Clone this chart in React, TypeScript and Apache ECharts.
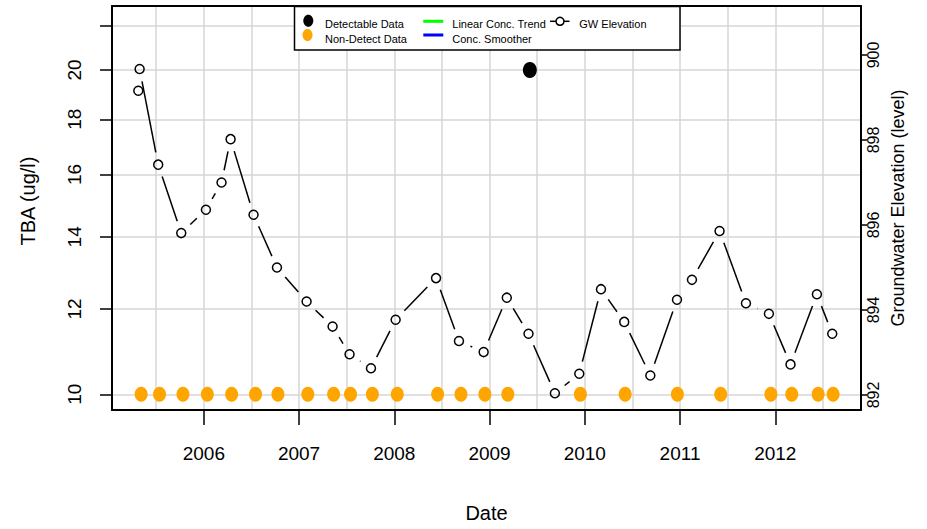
import React, { useEffect, useRef } from 'react';
import * as echarts from 'echarts';

// Groundwater elevation (right axis)
const gwDates = [2005.312, 2005.326, 2005.521, 2005.763, 2006.022, 2006.186, 2006.281, 2006.522, 2006.768, 2007.079, 2007.352, 2007.530, 2007.755, 2008.014, 2008.438, 2008.679, 2008.938, 2009.181, 2009.409, 2009.686, 2009.942, 2010.170, 2010.414, 2010.688, 2010.968, 2011.125, 2011.415, 2011.692, 2011.933, 2012.160, 2012.437, 2012.598];
const gwValues = [899.16, 899.67, 897.42, 895.81, 896.36, 897.00, 898.02, 896.24, 895.00, 894.20, 893.61, 892.96, 892.63, 893.77, 894.75, 893.27, 893.01, 894.29, 893.44, 892.04, 892.50, 894.49, 893.72, 892.46, 894.24, 894.71, 895.86, 894.16, 893.91, 892.72, 894.37, 893.44];

// Non-detect TBA (left axis)
const ndDates = [2005.342, 2005.535, 2005.781, 2006.037, 2006.292, 2006.543, 2006.778, 2007.092, 2007.363, 2007.540, 2007.770, 2008.031, 2008.455, 2008.700, 2008.951, 2009.192, 2009.954, 2010.424, 2010.972, 2011.427, 2011.954, 2012.173, 2012.450, 2012.607];
const ndValues = [10, 10, 10, 10, 10, 10, 10, 10, 10, 10, 10, 10, 10, 10, 10, 10, 10, 10, 10, 10, 10, 10, 10, 10];

// Detectable TBA
const detDates = [2009.423];
const detValues = [20];

// Axis ticks
const yearTicks = [2006, 2007, 2008, 2009, 2010, 2011, 2012];
const xGridTicks = [2005.5, 2006, 2006.5, 2007, 2007.5, 2008, 2008.5, 2009, 2009.5, 2010, 2010.5, 2011, 2011.5, 2012, 2012.5];
const leftTicks = [10, 12, 14, 16, 18, 20, 22];
const leftLabels = [10, 12, 14, 16, 18, 20];
const rightTicks = [892, 894, 896, 898, 900];

const FONT = 'Liberation Sans, Arial, Helvetica, sans-serif';

export default function App() {
  const ref = useRef<HTMLDivElement>(null);
  useEffect(() => {
    const chart = echarts.init(ref.current!, null, { renderer: 'svg' });
    const segData: number[][] = [];
    for (let i = 1; i < gwDates.length; i++) {
      segData.push([gwDates[i - 1], gwValues[i - 1], gwDates[i], gwValues[i]]);
    }
    const option: any = {
      animation: false,
      backgroundColor: '#ffffff',
      textStyle: { fontFamily: FONT },
      grid: { left: 112, right: 66, top: 6, bottom: 119, containLabel: false, outerBoundsMode: 'none' },
      xAxis: [
        {
          type: 'value', position: 'bottom', min: 2005.036, max: 2012.9,
          axisLine: { show: true, lineStyle: { color: '#000', width: 2 } },
          axisTick: { show: true, customValues: yearTicks, length: 15, lineStyle: { color: '#000', width: 1.5 } },
          axisLabel: { show: true, customValues: yearTicks, fontSize: 19, color: '#000', margin: 34, fontFamily: FONT, formatter: (v: number) => String(Math.round(v)) },
          splitLine: { show: false },
          name: 'Date', nameLocation: 'middle', nameGap: 93,
          nameTextStyle: { fontSize: 20, color: '#000', fontFamily: FONT },
        },
        {
          type: 'value', position: 'top', min: 2005.036, max: 2012.9,
          axisLine: { show: true, lineStyle: { color: '#000', width: 2 } },
          axisTick: { show: false, customValues: xGridTicks },
          axisLabel: { show: false, customValues: xGridTicks },
          splitLine: { show: true, lineStyle: { color: '#d6d6d6', width: 1.5 } },
        },
      ],
      yAxis: [
        {
          type: 'log', logBase: 10, position: 'left', min: 9.670, max: 22.93,
          axisLine: { show: true, lineStyle: { color: '#000', width: 2 } },
          axisTick: { show: true, customValues: leftTicks, length: 12, lineStyle: { color: '#000', width: 1.5 } },
          axisLabel: { show: true, customValues: leftLabels, rotate: 90, fontSize: 19, color: '#000', margin: 28, fontFamily: FONT, formatter: (v: number) => String(Math.round(v)) },
          splitLine: { show: true, lineStyle: { color: '#d6d6d6', width: 1.5 } },
          name: 'TBA (ug/l)', nameLocation: 'middle', nameGap: 74, nameRotate: 90,
          nameTextStyle: { fontSize: 20, color: '#000', fontFamily: FONT, padding: [0, 0, 0, 14] },
        },
        {
          type: 'value', position: 'right', min: 891.647, max: 901.153,
          axisLine: { show: true, lineStyle: { color: '#000', width: 2 } },
          axisTick: { show: true, customValues: rightTicks, length: 6, lineStyle: { color: '#000', width: 1.5 } },
          axisLabel: { show: true, customValues: rightTicks, rotate: 90, fontSize: 16, color: '#000', margin: 4, fontFamily: FONT },
          splitLine: { show: false },
          name: 'Groundwater Elevation (level)', nameLocation: 'middle', nameGap: 25, nameRotate: 90,
          nameTextStyle: { fontSize: 18, color: '#000', fontFamily: FONT },
        },
      ],
      series: [
        {
          type: 'custom', xAxisIndex: 0, yAxisIndex: 1, silent: true, clip: false, z: 3,
          encode: { x: [0, 2], y: [1, 3] },
          data: segData,
          renderItem: (params: any, api: any) => {
            const p0 = api.coord([api.value(0), api.value(1)]);
            const p1 = api.coord([api.value(2), api.value(3)]);
            const dx = p1[0] - p0[0];
            const dy = p1[1] - p0[1];
            const len = Math.hypot(dx, dy);
            const gap = 12.5;
            if (len <= 2 * gap) return { type: 'group', children: [] };
            const ux = dx / len, uy = dy / len;
            return {
              type: 'line',
              shape: { x1: p0[0] + ux * gap, y1: p0[1] + uy * gap, x2: p1[0] - ux * gap, y2: p1[1] - uy * gap },
              style: { stroke: '#000', lineWidth: 1.5 },
            };
          },
        },
        {
          type: 'scatter', xAxisIndex: 0, yAxisIndex: 1, z: 4, silent: true,
          symbol: 'circle', symbolSize: 9,
          itemStyle: { color: 'rgba(0,0,0,0)', borderColor: '#000', borderWidth: 1.5, opacity: 1 },
          data: gwDates.map((d, i) => [d, gwValues[i]]),
        },
        {
          type: 'scatter', xAxisIndex: 0, yAxisIndex: 0, z: 5, silent: true,
          symbol: 'circle', symbolSize: [13, 15],
          itemStyle: { color: '#FFA500', opacity: 1 },
          data: ndDates.map((d, i) => [d, ndValues[i]]),
        },
        {
          type: 'scatter', xAxisIndex: 0, yAxisIndex: 0, z: 5, silent: true,
          symbol: 'circle', symbolSize: [14, 16],
          itemStyle: { color: '#000', opacity: 1 },
          data: detDates.map((d, i) => [d, detValues[i]]),
        },
      ],
      graphic: [
        {
          type: 'group', z: 100,
          children: [
            { type: 'rect', z: 100, shape: { x: 294.5, y: 6.5, width: 385.5, height: 43.5 }, style: { fill: '#fff', stroke: '#000', lineWidth: 1.5 } },
            { type: 'ellipse', z: 101, shape: { cx: 308.3, cy: 20.7, rx: 5, ry: 6 }, style: { fill: '#000' } },
            { type: 'ellipse', z: 101, shape: { cx: 307.5, cy: 35, rx: 5, ry: 6 }, style: { fill: '#FFA500' } },
            { type: 'text', z: 101, x: 325, y: 24.3, style: { text: 'Detectable Data', fontSize: 11, fontFamily: FONT, fill: '#000', verticalAlign: 'middle', align: 'left' } },
            { type: 'text', z: 101, x: 325, y: 38.7, style: { text: 'Non-Detect Data', fontSize: 11, fontFamily: FONT, fill: '#000', verticalAlign: 'middle', align: 'left' } },
            { type: 'line', z: 101, shape: { x1: 423.3, y1: 21.3, x2: 443.3, y2: 21.3 }, style: { stroke: '#00FF00', lineWidth: 3 } },
            { type: 'line', z: 101, shape: { x1: 423.3, y1: 35, x2: 443.3, y2: 35 }, style: { stroke: '#0000FF', lineWidth: 3 } },
            { type: 'text', z: 101, x: 452.3, y: 24.3, style: { text: 'Linear Conc. Trend', fontSize: 11, fontFamily: FONT, fill: '#000', verticalAlign: 'middle', align: 'left' } },
            { type: 'text', z: 101, x: 452.3, y: 38.7, style: { text: 'Conc. Smoother', fontSize: 11, fontFamily: FONT, fill: '#000', verticalAlign: 'middle', align: 'left' } },
            { type: 'line', z: 101, shape: { x1: 550, y1: 21.3, x2: 569.5, y2: 21.3 }, style: { stroke: '#000', lineWidth: 1.5 } },
            { type: 'circle', z: 102, shape: { cx: 560, cy: 21.3, r: 4 }, style: { fill: '#fff', stroke: '#000', lineWidth: 1.5 } },
            { type: 'text', z: 101, x: 579.3, y: 24.3, style: { text: 'GW Elevation', fontSize: 11, fontFamily: FONT, fill: '#000', verticalAlign: 'middle', align: 'left' } },
          ],
        },
      ],
    };
    chart.setOption(option);
    return () => chart.dispose();
  }, []);
  return (
    <div
      ref={ref}
      style={{ position: 'fixed', left: 0, top: 0, width: 927, height: 529, background: '#fff' }}
    />
  );
}
